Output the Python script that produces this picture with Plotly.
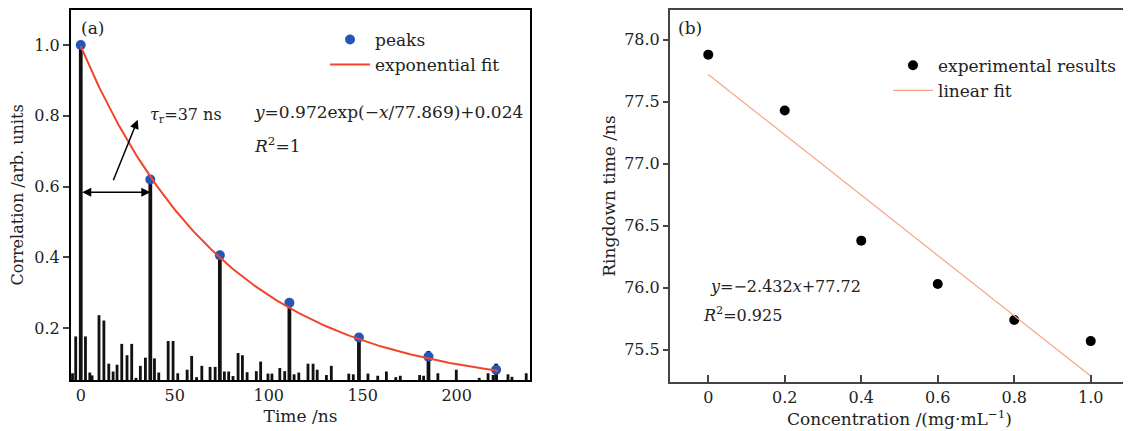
import numpy as np
import plotly.graph_objects as go

# ---------------- panel (a) data ----------------
noise_t = [-4.4, -2.7, 2.5, 4.8, 6.0, 9.7, 12.3, 14.9, 17.2, 19.3, 21.8, 24.6,
           27.1, 29.4, 31.7, 34.4, 39.2, 41.5, 46.5, 49.1, 51.6, 56.6, 59.0,
           61.6, 64.4, 68.8, 71.5, 76.4, 78.7, 81.0, 83.7, 86.0, 88.5, 93.4,
           95.7, 99.6, 101.7, 105.9, 108.5, 113.5, 116.0, 120.9, 123.6, 125.8,
           130.7, 133.3, 142.6, 145.0, 152.8, 158.0, 162.6, 167.6, 170.0,
           180.3, 182.4, 190.0, 199.8, 212.0, 216.7, 219.4, 227.3, 229.4, 237.0]
noise_h = [0.073, 0.177, 0.177, 0.075, 0.067, 0.237, 0.222, 0.100, 0.078, 0.097,
           0.156, 0.124, 0.156, 0.060, 0.094, 0.117, 0.115, 0.075, 0.164, 0.164,
           0.073, 0.083, 0.122, 0.062, 0.094, 0.091, 0.091, 0.078, 0.078, 0.065,
           0.130, 0.124, 0.076, 0.079, 0.106, 0.072, 0.072, 0.088, 0.079, 0.070,
           0.075, 0.100, 0.100, 0.083, 0.068, 0.094, 0.072, 0.070, 0.072, 0.066,
           0.078, 0.062, 0.066, 0.068, 0.066, 0.073, 0.083, 0.060, 0.073, 0.068,
           0.070, 0.063, 0.073]

peak_t = [0, 37, 74, 111, 148, 185, 221]
peak_h = [1.0, 0.62, 0.406, 0.272, 0.174, 0.120, 0.083]
peak_bar_h = [1.0, 0.62, 0.406, 0.272, 0.174, 0.136, 0.100]

fit_a, fit_tau, fit_c = 0.972, 77.869, 0.024
fit_t = np.linspace(0, 222, 200)
fit_y = fit_a * np.exp(-fit_t / fit_tau) + fit_c

# ---------------- panel (b) data ----------------
conc = [0, 0.2, 0.4, 0.6, 0.8, 1.0]
ringdown = [77.88, 77.43, 76.38, 76.03, 75.74, 75.57]
lin_k, lin_b = -2.432, 77.72
lin_x = [0, 1.0]
lin_y = [lin_k * x + lin_b for x in lin_x]

FONT = "DejaVu Serif"
TXT = "#222222"
BLUE = "#2456b8"
RED = "#f2452b"
SALMON = "#f7a486"

fig = go.Figure()

# ---- (a) correlation spectrum ----
fig.add_trace(go.Bar(x=noise_t, y=noise_h, width=1.5, marker_color="#111111",
                     marker_line_width=0, showlegend=False, hoverinfo="skip",
                     xaxis="x", yaxis="y"))
fig.add_trace(go.Bar(x=peak_t, y=peak_bar_h, width=2.0, marker_color="#111111",
                     marker_line_width=0, showlegend=False, hoverinfo="skip",
                     xaxis="x", yaxis="y"))
fig.add_trace(go.Scatter(x=peak_t, y=peak_h, mode="markers", name="peaks",
                         marker=dict(color=BLUE, size=10), legend="legend",
                         xaxis="x", yaxis="y"))
fig.add_trace(go.Scatter(x=fit_t, y=fit_y, mode="lines", name="exponential fit",
                         line=dict(color=RED, width=2), legend="legend",
                         xaxis="x", yaxis="y"))

# ---- (b) ringdown vs concentration ----
fig.add_trace(go.Scatter(x=conc, y=ringdown, mode="markers",
                         name="experimental results",
                         marker=dict(color="black", size=10), legend="legend2",
                         xaxis="x2", yaxis="y2"))
fig.add_trace(go.Scatter(x=lin_x, y=lin_y, mode="lines", name="linear fit",
                         line=dict(color=SALMON, width=1.2), legend="legend2",
                         xaxis="x2", yaxis="y2"))

axis_common = dict(showgrid=False, zeroline=False, showline=True, mirror=True,
                   linewidth=2, tickfont=dict(size=16, color=TXT))

fig.update_layout(
    width=1123, height=423,
    margin=dict(l=0, r=0, t=0, b=0),
    paper_bgcolor="white", plot_bgcolor="white",
    font=dict(family=FONT, size=16, color=TXT),
    barmode="overlay",
    xaxis=dict(domain=[0.0561, 0.4648], range=[-5.2, 239], anchor="y",
               tickvals=[0, 50, 100, 150, 200], ticks="", ticklabelstandoff=0,
               linecolor="black",
               title=dict(text="Time /ns", standoff=6, font=dict(size=17)),
               **axis_common),
    yaxis=dict(domain=[0.1206, 0.9953], range=[0.054, 1.099], anchor="x",
               tickvals=[0.2, 0.4, 0.6, 0.8, 1.0], tickformat=".1f",
               ticks="outside", ticklen=6, tickwidth=1.5, linecolor="black",
               title=dict(text="Correlation /arb. units", standoff=8,
                          font=dict(size=16)),
               **axis_common),
    xaxis2=dict(domain=[0.5895, 0.9982], range=[-0.1, 1.1], anchor="y2",
                tickvals=[0, 0.2, 0.4, 0.6, 0.8, 1.0],
                ticktext=["0", "0.2", "0.4", "0.6", "0.8", "1.0"],
                ticks="inside", ticklen=7, tickwidth=1.5, linecolor="#444",
                ticklabelstandoff=0,
                title=dict(text="Concentration /(mg\u00b7mL<sup>\u22121</sup>)",
                           standoff=2, font=dict(size=17)),
                **axis_common),
    yaxis2=dict(domain=[0.1158, 0.9953], range=[75.24, 78.24], anchor="x2",
                tickvals=[75.5, 76.0, 76.5, 77.0, 77.5, 78.0], tickformat=".1f",
                ticks="outside", ticklen=5, tickwidth=1.5, linecolor="#444",
                title=dict(text="Ringdown time /ns", standoff=4,
                           font=dict(size=17)),
                **axis_common),
    legend=dict(x=0.2823, y=0.967, xanchor="left", yanchor="top",
                bgcolor="rgba(0,0,0,0)", font=dict(size=17),
                tracegroupgap=0, itemwidth=40),
    legend2=dict(x=0.7836, y=0.906, xanchor="left", yanchor="top",
                 bgcolor="rgba(0,0,0,0)", font=dict(size=17),
                 tracegroupgap=0, itemwidth=40),
)

annotations = [
    dict(xref="paper", yref="paper", x=0.0632, y=0.9527, text="(a)",
         showarrow=False, xanchor="left", yanchor="middle", font=dict(size=17)),
    dict(xref="paper", yref="paper", x=0.5948, y=0.9527, text="(b)",
         showarrow=False, xanchor="left", yanchor="middle", font=dict(size=17)),
    dict(xref="x", yref="y", x=35.5, y=0.80,
         text="<i>\u03c4</i><sub>r</sub>=37 ns",
         showarrow=False, xanchor="left", font=dict(size=16)),
    dict(xref="x", yref="y", x=91, y=0.811,
         text="<i>y</i>=0.972exp(\u2212<i>x</i>/77.869)+0.024",
         showarrow=False, xanchor="left", font=dict(size=17)),
    dict(xref="x", yref="y", x=91, y=0.718, text="<i>R</i><sup>2</sup>=1",
         showarrow=False, xanchor="left", font=dict(size=17)),
    # slanted arrow pointing at the tau label
    dict(xref="x", yref="y", axref="x", ayref="y", x=30.3, y=0.789, ax=17, ay=0.614,
         text="", showarrow=True, arrowhead=2, arrowsize=1.2, arrowwidth=1.5,
         arrowcolor="black"),
    # double-headed arrow spanning one round trip
    dict(xref="x", yref="y", axref="x", ayref="y", x=37, y=0.584, ax=0, ay=0.584,
         text="", showarrow=True, arrowhead=2, startarrowhead=2,
         arrowside="end+start", arrowsize=1.2, arrowwidth=1.5,
         arrowcolor="black"),
    dict(xref="x2", yref="y2", x=0.0, y=76.01,
         text="<i>y</i>=\u22122.432<i>x</i>+77.72",
         showarrow=False, xanchor="left", font=dict(size=16)),
    dict(xref="x2", yref="y2", x=-0.02, y=75.785,
         text="<i>R</i><sup>2</sup>=0.925",
         showarrow=False, xanchor="left", font=dict(size=16)),
]
fig.update_layout(annotations=annotations)

fig.write_html("out.html")
